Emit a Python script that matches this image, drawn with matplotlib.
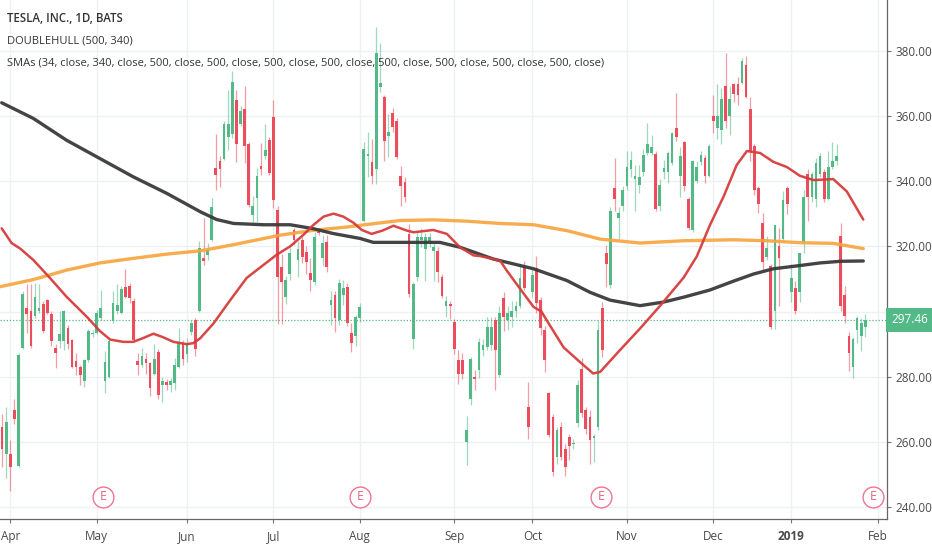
import numpy as np
import matplotlib
matplotlib.use('Agg')
import matplotlib.pyplot as plt
import matplotlib.transforms as mtransforms

# TSLA daily candles, Mar 28 2018 .. Jan 29 2019 (index 0 = Apr 2 2018)
opens = [264.6, 256.4, 256.4, 269.8, 252.7, 288.8, 301.0, 300.1, 298.6, 300.3,
         302.4, 303.4, 299.1, 288.8, 290.9, 290.9, 295.1, 291.4, 284.9, 283.1,
         278.6, 285.1, 293.0, 293.5, 298.0, 278.6, 279.8, 297.1, 300.1, 299.6,
         307.5, 307.7, 303.2, 284.9, 283.7, 285.6, 284.1, 281.0, 287.5, 277.5,
         278.4, 277.5, 278.0, 283.1, 290.3, 286.9, 293.7, 297.5, 300.1, 316.4,
         317.4, 322.0, 344.1, 346.1, 346.7, 353.4, 354.4, 364.7, 357.6, 362.1,
         351.3, 329.7, 334.9, 344.6, 347.8, 352.7, 359.7, 331.2, 313.7, 304.6,
         311.4, 324.9, 315.8, 321.8, 318.2, 311.9, 309.0, 325.0, 316.3, 321.4,
         302.0, 305.0, 297.5, 305.0, 307.6, 293.4, 292.4, 298.0, 327.9, 347.8,
         345.7, 343.7, 368.7, 365.7, 353.9, 361.0, 358.5, 341.6, 339.6, 323.8,
         291.6, 310.5, 321.8, 319.2, 321.3, 318.7, 318.7, 310.5, 301.8, 302.3,
         296.7, 285.0, 285.0, 260.0, 273.2, 279.9, 282.0, 288.1, 289.1, 289.8,
         297.5, 280.5, 304.1, 297.5, 298.4, 300.1, 301.6, 313.4, 270.7, 306.1,
         313.4, 303.6, 294.3, 274.9, 267.7, 255.4, 264.6, 258.0, 261.6, 259.3,
         265.7, 282.5, 269.8, 267.7, 261.2, 264.6, 301.2, 317.9, 308.2, 337.9,
         328.7, 332.5, 338.4, 343.8, 340.6, 338.9, 342.7, 348.6, 348.6, 348.4,
         332.5, 342.7, 342.7, 345.4, 356.2, 341.6, 351.9, 334.6, 325.0, 340.0,
         345.9, 347.0, 341.6, 360.0, 356.2, 355.6, 369.1, 360.0, 369.9, 369.7,
         370.2, 375.6, 362.1, 350.8, 337.9, 327.1, 316.8, 314.1, 300.1, 320.1,
         322.2, 337.9, 306.1, 307.2, 306.1, 321.2, 342.2, 335.2, 334.6, 342.2,
         342.7, 334.6, 344.3, 346.0, 323.3, 305.0, 292.6, 282.9, 294.2, 292.6,
         295.3]
highs = [268.7, 270.6, 260.5, 273.2, 287.3, 306.3, 308.3, 308.3, 308.7, 308.3,
         303.2, 303.7, 300.1, 289.9, 300.1, 300.6, 295.8, 291.5, 287.3, 283.7,
         285.6, 294.5, 294.2, 300.6, 306.7, 287.8, 292.0, 306.3, 308.3, 307.7,
         313.0, 308.8, 304.2, 287.3, 288.8, 287.3, 284.6, 289.9, 288.4, 279.8,
         279.3, 279.5, 285.9, 295.1, 291.3, 291.8, 297.5, 297.9, 321.6, 328.7,
         321.1, 334.7, 354.3, 347.7, 358.3, 368.0, 373.6, 368.0, 363.1, 369.0,
         352.1, 335.3, 343.9, 351.6, 357.4, 353.5, 364.9, 332.3, 317.7, 310.9,
         319.9, 325.6, 321.5, 322.9, 320.0, 316.3, 324.3, 325.7, 323.4, 323.4,
         306.4, 306.4, 310.1, 309.6, 308.7, 296.4, 298.8, 302.6, 352.1, 354.9,
         353.0, 387.1, 382.4, 366.3, 360.6, 362.5, 359.2, 344.7, 341.1, 326.9,
         309.0, 324.3, 325.6, 324.2, 324.2, 321.2, 319.9, 311.4, 304.9, 303.3,
         297.8, 288.1, 287.3, 268.1, 286.0, 282.0, 292.0, 291.5, 298.2, 298.4,
         298.4, 301.6, 306.1, 301.6, 303.1, 303.1, 314.3, 315.4, 278.4, 313.4,
         316.9, 304.6, 295.5, 275.4, 268.7, 264.6, 266.2, 259.5, 262.5, 261.0,
         278.9, 285.7, 270.7, 269.7, 262.5, 297.5, 303.0, 320.5, 331.9, 347.0,
         331.9, 338.4, 349.2, 349.2, 344.9, 344.9, 349.7, 357.8, 354.0, 349.2,
         340.6, 346.5, 349.2, 355.1, 367.0, 350.3, 352.4, 335.2, 346.5, 346.0,
         349.2, 348.1, 351.3, 366.4, 369.7, 368.6, 379.4, 369.1, 370.2, 371.8,
         377.7, 378.3, 365.9, 351.3, 338.4, 330.3, 323.3, 314.7, 326.5, 325.5,
         336.8, 338.4, 314.7, 309.3, 317.9, 337.3, 343.8, 342.7, 347.0, 348.6,
         343.8, 349.2, 351.9, 351.3, 327.1, 307.7, 293.7, 292.1, 298.5, 298.0,
         299.1]
lows = [252.2, 249.1, 245.0, 265.6, 252.2, 288.4, 293.5, 288.8, 298.0, 299.6,
        293.5, 299.1, 289.4, 282.6, 288.8, 288.3, 288.4, 282.6, 280.5, 277.5,
        276.9, 284.6, 292.3, 293.0, 297.5, 275.0, 279.5, 296.5, 299.3, 299.1,
        304.2, 302.7, 290.9, 280.5, 283.0, 281.0, 274.0, 280.5, 273.2, 272.3,
        276.0, 275.4, 276.0, 282.6, 283.5, 284.5, 292.7, 286.4, 299.8, 314.3,
        315.9, 321.6, 337.3, 338.2, 346.3, 349.6, 353.1, 345.8, 357.0, 345.5,
        331.9, 327.3, 327.3, 342.0, 346.9, 341.8, 331.6, 296.1, 296.1, 302.2,
        309.6, 320.3, 310.6, 314.9, 311.5, 306.3, 308.2, 323.4, 313.9, 312.0,
        295.9, 293.6, 295.9, 302.0, 295.5, 287.5, 289.4, 296.9, 327.5, 341.1,
        339.1, 339.1, 367.2, 346.2, 347.3, 354.9, 346.9, 332.5, 333.5, 304.4,
        288.6, 309.5, 319.9, 309.5, 319.9, 309.5, 309.0, 304.3, 298.2, 297.7,
        287.1, 277.9, 279.2, 252.9, 271.3, 275.8, 279.7, 286.3, 288.1, 288.2,
        275.9, 280.0, 293.9, 294.3, 295.4, 298.3, 301.0, 306.7, 261.0, 304.6,
        299.5, 292.8, 281.6, 261.6, 249.7, 253.3, 254.4, 249.7, 254.4, 258.0,
        264.6, 267.7, 262.5, 253.3, 253.9, 263.6, 286.0, 307.6, 307.2, 330.9,
        322.2, 330.9, 337.3, 341.1, 330.9, 336.3, 341.6, 348.1, 348.1, 330.9,
        330.9, 340.6, 339.5, 344.9, 352.4, 335.2, 336.8, 325.0, 324.4, 339.5,
        344.9, 339.5, 341.1, 354.6, 352.9, 351.3, 356.2, 354.0, 364.3, 363.2,
        369.7, 365.4, 346.0, 335.7, 330.3, 312.5, 315.8, 294.7, 294.7, 301.8,
        321.2, 329.8, 302.8, 299.1, 302.8, 317.9, 327.6, 333.5, 331.9, 341.1,
        333.5, 334.1, 343.8, 344.9, 300.1, 296.4, 281.8, 279.7, 290.4, 287.8,
        292.1]
closes = [257.9, 266.1, 252.2, 267.0, 286.8, 305.4, 299.1, 289.4, 304.6, 301.0,
          294.0, 299.7, 290.9, 287.3, 293.2, 300.1, 290.1, 283.1, 283.1, 280.5,
          285.1, 294.0, 293.5, 299.6, 301.1, 284.4, 291.1, 302.7, 302.1, 307.0,
          304.6, 304.2, 291.4, 283.7, 286.4, 284.1, 276.5, 285.6, 274.5, 278.6,
          277.5, 278.8, 283.7, 290.8, 285.4, 290.3, 296.5, 288.4, 319.5, 315.6,
          318.9, 332.1, 342.0, 343.8, 357.6, 357.6, 370.5, 351.3, 361.6, 350.8,
          332.7, 332.2, 341.6, 343.6, 349.6, 342.5, 334.3, 310.6, 309.0, 309.6,
          318.0, 321.8, 319.2, 316.7, 315.2, 309.8, 322.8, 324.0, 320.9, 313.7,
          303.5, 298.0, 308.8, 307.1, 296.4, 290.3, 298.4, 301.5, 349.8, 348.3,
          341.6, 379.4, 370.2, 352.4, 355.1, 356.5, 347.3, 338.6, 335.0, 305.4,
          308.5, 322.8, 322.8, 322.8, 322.8, 319.7, 312.1, 304.9, 303.3, 301.6,
          288.6, 280.9, 280.9, 263.6, 285.6, 279.4, 290.7, 289.6, 295.2, 295.4,
          288.2, 299.5, 298.4, 299.5, 300.1, 301.6, 310.2, 307.2, 264.6, 311.3,
          302.6, 294.9, 285.1, 262.1, 250.7, 263.6, 255.4, 252.3, 258.9, 259.8,
          277.4, 268.8, 264.0, 260.5, 261.8, 294.3, 288.3, 314.7, 330.9, 334.6,
          330.3, 337.3, 344.3, 346.5, 341.6, 341.1, 348.1, 351.3, 350.5, 331.4,
          338.9, 344.0, 348.6, 354.6, 353.5, 347.6, 338.4, 325.5, 346.0, 344.3,
          348.1, 341.6, 350.8, 358.3, 360.0, 365.3, 358.3, 365.3, 366.6, 366.4,
          376.7, 365.9, 349.2, 337.3, 333.0, 315.2, 319.5, 295.3, 326.5, 316.3,
          334.1, 333.0, 310.4, 300.1, 317.9, 335.2, 335.2, 342.2, 345.4, 347.6,
          334.6, 344.3, 346.1, 347.6, 301.8, 298.5, 287.2, 291.5, 298.0, 296.4,
          297.46]
first_idx = -2  # Mar 28 2018

# moving averages (trading-day index, value)
sma34_x = [-2.1, 0.3, 2.4, 5.6, 9.7, 13.7, 18.6, 21.8, 24.3, 27.5, 29.9, 32.4, 34.8,
           37.2, 39.7, 42.9, 44.5, 46.2, 49.4, 53.5, 57.5, 61.6, 64.8, 68.1, 71.3,
           73.7, 76.2, 78.6, 81.0, 83.5, 85.5, 87.9, 90.5, 93.2, 96.5, 98.1, 102.9,
           106.2, 109.4, 112.7, 114.3, 117.5, 119.2, 120.8, 124.0, 127.3, 129.2,
           130.5, 134.6, 138.6, 141.8, 143.5, 148.4, 153.2, 158.1, 163.8, 167.0,
           170.2, 173.5, 176.7, 179.2, 182.4, 185.6, 188.9, 192.1, 195.4, 200.2,
           203.5, 207.5]
sma34_y = [325.5, 321.0, 319.3, 315.8, 310.2, 304.5, 298.4, 294.0, 291.4, 290.7, 290.7,
           291.9, 293.2, 292.1, 290.7, 290.0, 290.3, 291.8, 296.3, 303.5, 310.3, 314.3,
           317.4, 320.0, 323.5, 326.5, 329.1, 330.0, 329.1, 327.2, 325.0, 323.8, 324.8,
           326.3, 324.8, 324.3, 325.0, 323.8, 319.7, 317.2, 317.0, 316.1, 315.5, 312.5,
           307.0, 301.4, 300.0, 297.3, 289.0, 284.5, 281.0, 281.5, 288.3, 294.8, 301.8,
           310.4, 316.9, 326.5, 335.2, 344.9, 349.2, 348.6, 345.9, 344.3, 341.6, 340.3,
           340.6, 336.8, 328.2]
sma340_x = [-2.1, 5.6, 13.7, 21.8, 29.9, 38.1, 46.2, 50.2, 54.3, 61.6, 68.1, 73.7,
            78.6, 85.1, 88.3, 104.5, 109.4, 117.5, 127.3, 135.4, 141.0, 145.9, 153.2,
            158.9, 163.8, 170.2, 175.9, 180.8, 185.6, 192.1, 197.0, 201.9, 207.5]
sma340_y = [364.0, 359.2, 352.5, 346.9, 341.3, 336.2, 330.6, 328.2, 327.0, 326.6, 326.6,
            325.4, 323.9, 322.4, 321.2, 321.2, 319.7, 316.1, 313.1, 309.5, 305.9, 303.5,
            301.8, 302.9, 304.4, 306.6, 309.3, 311.5, 313.1, 314.1, 314.9, 315.4, 315.5]
sma500_x = [-2.5, 5.6, 13.7, 21.8, 29.9, 38.1, 46.2, 54.3, 65.6, 73.7, 81.8, 87.5, 94.8,
            102.9, 111.0, 119.1, 127.3, 135.4, 143.5, 153.2, 163.8, 175.9, 184.0, 192.1,
            200.2, 207.5]
sma500_y = [307.6, 309.8, 312.7, 314.9, 316.3, 317.6, 318.6, 320.5, 323.4, 324.9, 325.9,
            326.8, 327.9, 328.1, 327.7, 327.0, 326.6, 324.8, 322.2, 321.0, 321.7, 322.0,
            321.7, 321.1, 320.9, 319.3]

month_pos = [0, 21, 43, 64, 85, 108, 127, 150, 171, 190, 211]
month_lab = ['Apr', 'May', 'Jun', 'Jul', 'Aug', 'Sep', 'Oct', 'Nov', 'Dec', '2019', 'Feb']
earnings_pos = [22.6, 85.1, 143.7, 209.9]
last_price = 297.46

UP = '#53b987'
DOWN = '#eb4d5c'
GRID = '#eef0f3'
TXT = '#4a4a4a'

plt.rcParams['font.family'] = ['Open Sans', 'DejaVu Sans']

fig = plt.figure(figsize=(9.32, 5.5), dpi=100)
ax = fig.add_axes([0, 1 - 519 / 550, 886.7 / 932, 519 / 550])

o = np.array(opens)
h = np.array(highs)
l = np.array(lows)
c = np.array(closes)
idx = np.arange(len(o)) + first_idx
up = c >= o
cols = np.where(up, UP, DOWN)

ax.vlines(idx, l, h, colors=cols, linewidth=0.9, alpha=0.55, zorder=2)
body_lo = np.minimum(o, c)
body_h = np.maximum(np.abs(c - o), 0.35)
ax.bar(idx, body_h, bottom=body_lo, width=0.66, color=cols, linewidth=0, zorder=3)

ax.plot(sma500_x, sma500_y, color='#f7a43c', lw=2.4, alpha=0.9, zorder=4,
        solid_capstyle='round')
ax.plot(sma340_x, sma340_y, color='#3a3a3a', lw=2.4, alpha=0.95, zorder=5,
        solid_capstyle='round')
ax.plot(sma34_x, sma34_y, color='#d63c3c', lw=1.8, alpha=0.95, zorder=6,
        solid_capstyle='round')

ax.axhline(last_price, color=UP, lw=0.9, ls=(0, (1, 1.5)), zorder=1)

ax.set_xlim(-2.51, 213.2)
ax.set_ylim(236.4, 395.5)

yt = np.arange(240, 381, 20)
ax.set_yticks(yt)
ax.set_yticklabels(['%.2f' % v for v in yt])
ax.yaxis.tick_right()
ax.set_xticks(month_pos)
ax.set_xticklabels(month_lab)
for t in ax.get_xticklabels():
    if t.get_text() == '2019':
        t.set_fontweight('bold')
ax.tick_params(axis='y', colors='#777777', labelcolor=TXT, labelsize=8.5, length=3,
               width=0.8, pad=3)
ax.tick_params(axis='x', colors='#777777', labelcolor=TXT, labelsize=8.5, length=3,
               width=0.8, pad=5)
ax.grid(True, color=GRID, lw=1, zorder=0)
ax.set_axisbelow(True)
for s in ['top', 'left']:
    ax.spines[s].set_visible(False)
for s in ['right', 'bottom']:
    ax.spines[s].set_color('#666666')
    ax.spines[s].set_linewidth(0.9)

# earnings markers near bottom of pane
trans = mtransforms.blended_transform_factory(ax.transData, ax.transAxes)
for ep in earnings_pos:
    ax.plot([ep], [0.043], marker='o', ms=15, mfc='white', mec='#ef7592', mew=1.0,
            transform=trans, clip_on=False, zorder=7)
    ax.text(ep, 0.043, 'E', transform=trans, ha='center', va='center',
            color='#e9627f', fontsize=9, zorder=8)

# last price label
ax.annotate('%.2f' % last_price, xy=(1, last_price), xycoords=('axes fraction', 'data'),
            xytext=(3.5, 0), textcoords='offset points', ha='left', va='center',
            color='white', fontsize=8.5,
            bbox=dict(boxstyle='square,pad=0.45', fc=UP, ec='none'),
            annotation_clip=False, zorder=10)

fig.text(7 / 932, 1 - 19 / 550, 'TESLA, INC., 1D, BATS', fontsize=8.3, color='#333333',
         fontweight='semibold', va='center')
fig.text(7 / 932, 1 - 41 / 550, 'DOUBLEHULL (500, 340)', fontsize=8.0, color='#333333',
         va='center')
fig.text(7 / 932, 1 - 63 / 550,
         'SMAs (34, close, 340, close, 500, close, 500, close, 500, close, 500, close, '
         '500, close, 500, close, 500, close, 500, close)',
         fontsize=8.0, color='#333333', va='center')

fig.savefig('out.png', dpi=100)
